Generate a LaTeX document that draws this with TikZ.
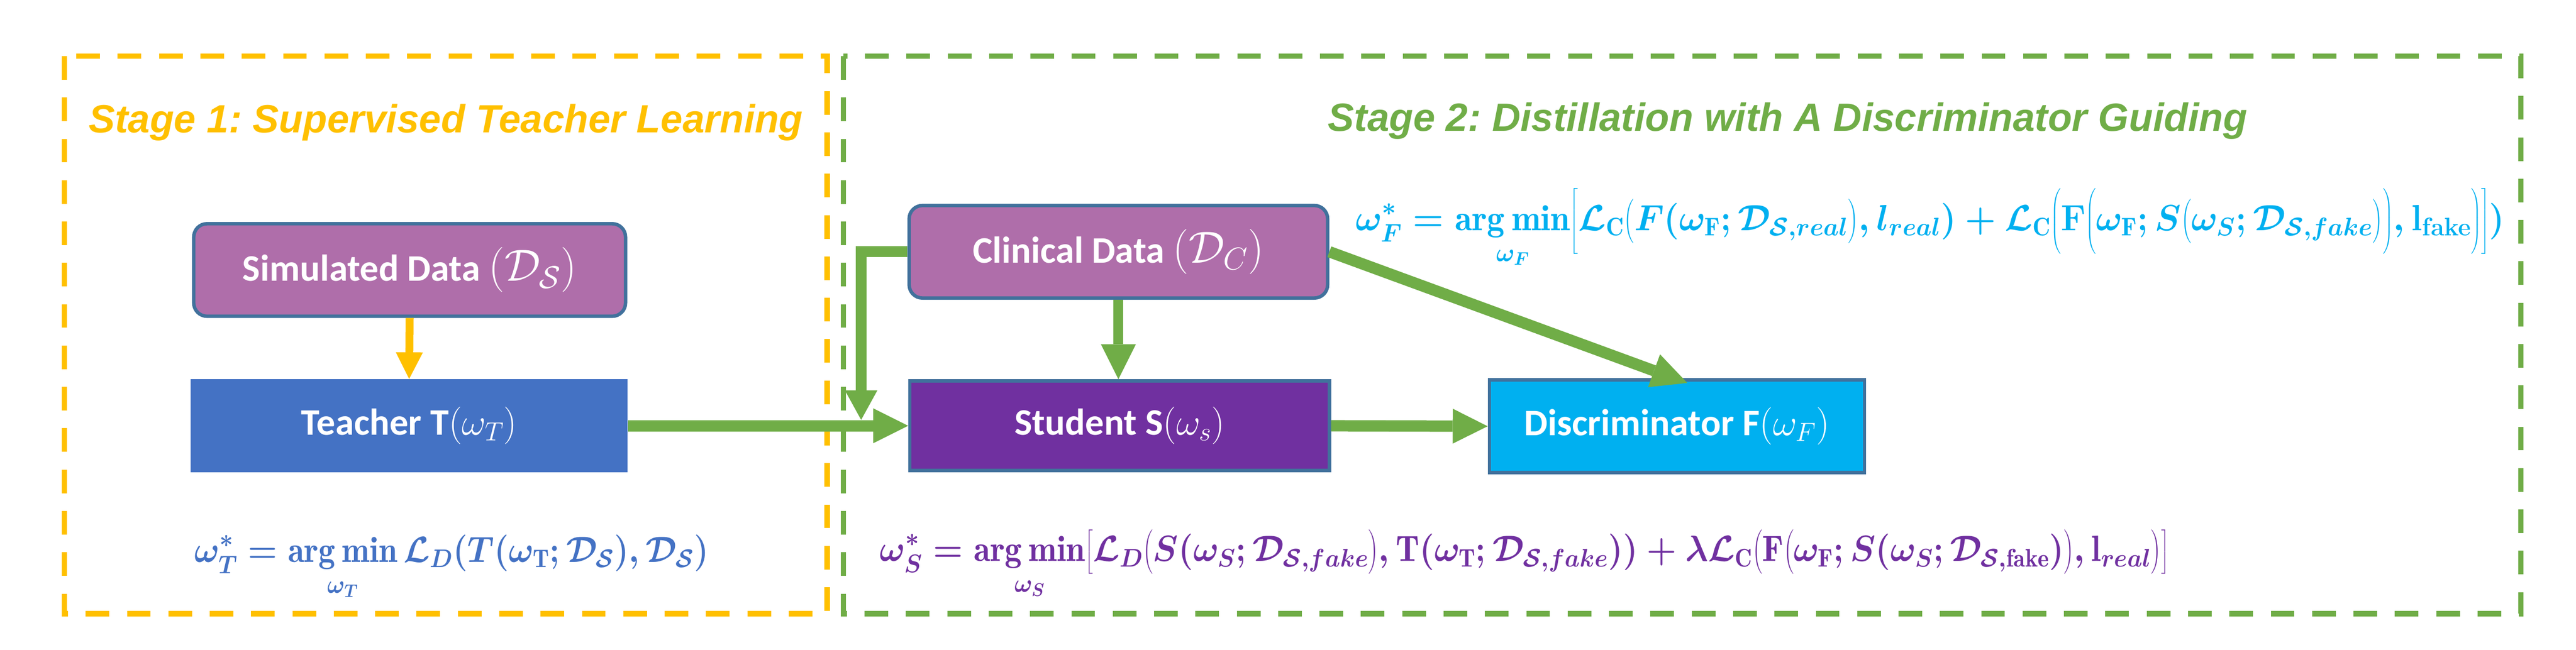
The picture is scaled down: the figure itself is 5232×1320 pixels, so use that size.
\RequirePackage{fix-cm}
\documentclass[tikz,border=0pt]{standalone}
\usepackage{amsmath}
\usepackage{fontspec}
\usepackage{graphicx}
\usetikzlibrary{arrows.meta}
\newfontfamily\calib{Carlito}
\newfontfamily\arialf{Liberation Sans}
\definecolor{cyel}{HTML}{FFC000}
\definecolor{cgrn}{HTML}{70AD47}
\definecolor{cpl}{HTML}{AF6EAA}
\definecolor{cbord}{HTML}{41719C}
\definecolor{cblu}{HTML}{4472C4}
\definecolor{cpur}{HTML}{7030A0}
\definecolor{ccya}{HTML}{00B0F0}
\newcommand\fitw[2]{\resizebox{#1}{\height}{#2}}
\newcommand\argminover[1]{\mathop{\mathrm{arg\,min}}\limits_{\rule{0pt}{44pt}#1}}
\newcommand\bigmath[1]{\scalebox{1.2}{$#1$}}
\frenchspacing
\tikzset{
  stageframe/.style={line width=11pt, dash pattern=on 48pt off 36pt},
  boxlabel/.style={inner sep=0pt, text=white, font=\calib\bfseries\fontsize{76}{90}\selectfont},
  databox/.style={boxlabel, rounded corners=27pt, draw=cbord, line width=7pt, fill=cpl},
  netbox/.style={boxlabel, draw=cbord, line width=7pt},
  title/.style={anchor=base west, inner sep=0pt, font=\arialf\bfseries\itshape\fontsize{80}{96}\selectfont},
  formula/.style={anchor=base west, inner sep=0pt, font=\fontsize{74}{86}\selectfont\boldmath},
  yarr/.style={draw=cyel, line width=16pt, -{Triangle[length=54pt,width=55pt,line width=0pt]}},
  garr/.style={draw=cgrn, line width=23pt, -{Triangle[length=71pt,width=71pt,line width=0pt]}},
}
\begin{document}
\begin{tikzpicture}[x=1pt,y=-1pt]
\useasboundingbox (0,0) rectangle (5232,1320);
% stage frames
\draw[stageframe, draw=cyel] (131,114) rectangle (1680,1247);
\draw[stageframe, draw=cgrn] (1713,114) rectangle (5120,1247);
% titles
\node[title, text=cyel] (t1) at (180,269) {Stage 1: Supervised Teacher Learning};
\node[title, text=cgrn] (t2) at (2697,266) {Stage 2: Distillation with A Discriminator Guiding};
% boxes
\node[databox, minimum width=877pt, minimum height=188pt] (sim) at (832,548.5) {Simulated Data \bigmath{(\mathcal{D}_{\mathcal{S}})}};
\node[boxlabel, fill=cblu, minimum width=888pt, minimum height=190pt] (teach) at (831,865) {Teacher T$(\omega_T)$};
\node[databox, minimum width=850pt, minimum height=188pt] (clin) at (2271.5,511.5) {Clinical Data \bigmath{(\mathcal{D}_{C})}};
\node[netbox, fill=cpur, minimum width=852pt, minimum height=182pt] (stud) at (2274,865) {Student S$(\omega_s)$};
\node[netbox, fill=ccya, minimum width=762pt, minimum height=188pt] (disc) at (3406,866) {Discriminator F$(\omega_F)$};
% connector ends
\coordinate (elb) at (1749,853);
\coordinate (dtip) at (3427,778);
% connectors
\draw[yarr] (sim.south) -- (teach.north);
\draw[garr] (teach.east) -- (stud.west);
\draw[garr, line width=22pt, -{Triangle[length=60pt,width=66pt,line width=0pt]}] (clin.west) -| (elb);
\draw[garr, line width=20pt] (clin.south) -- (clin.south |- stud.north);
\draw[garr] (stud.east) -- (disc.west);
\draw[garr, -{Triangle[length=72pt,width=71pt,line width=0pt]}] (clin.east) -- (dtip);
% formulas
\node[formula, text=cblu] (ft) at (395,1142) {\fitw{1044pt}{$\displaystyle \omega_T^{*}=\argminover{\omega_T}\mathcal{L}_D(T(\omega_{\mathrm{T}};\mathcal{D}_{\mathcal{S}}),\mathcal{D}_{\mathcal{S}})$}};
\node[formula, text=cpur] (fs) at (1787,1140) {\fitw{2618pt}{$\displaystyle \omega_S^{*}=\argminover{\omega_S}\bigl[\mathcal{L}_D\bigl(S(\omega_{S};\mathcal{D}_{\mathcal{S},fake}\bigr),\mathrm{T}(\omega_{\mathrm{T}};\mathcal{D}_{\mathcal{S},fake}))+\lambda\mathcal{L}_{\mathrm{C}}\bigl(\mathrm{F}\bigl(\omega_{\mathrm{F}};S(\omega_{S};\mathcal{D}_{\mathcal{S},\mathrm{fake}})\bigr),\mathrm{l}_{real}\bigr)\bigr]$}};
\node[formula, text=ccya] (fd) at (2753,468) {\fitw{2334pt}{$\displaystyle \omega_F^{*}=\argminover{\omega_F}\Bigl[\mathcal{L}_{\mathrm{C}}\bigl(F(\omega_{\mathrm{F}};\mathcal{D}_{\mathcal{S},real}\bigr),l_{real})+\mathcal{L}_{\mathrm{C}}\Bigl(\mathbf{F}\Bigl(\omega_{\mathrm{F}};S\bigl(\omega_{S};\mathcal{D}_{\mathcal{S},fake}\bigr)\Bigr),\mathbf{l}_{\mathbf{fake}}\Bigr)\Bigr])$}};
\end{tikzpicture}
\end{document}
